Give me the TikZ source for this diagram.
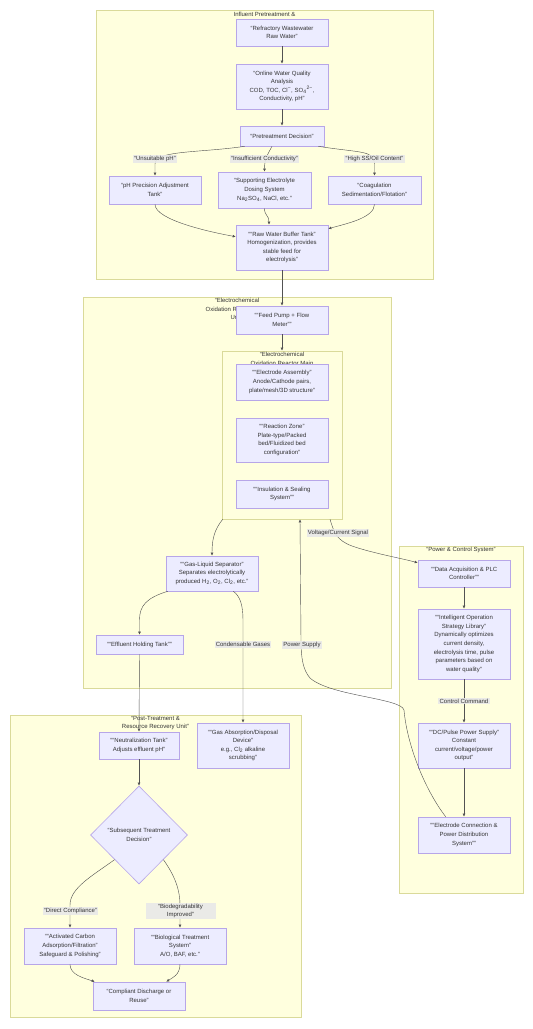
\documentclass[tikz,border=0pt]{standalone}
\usepackage{fontspec}
\setmainfont{Liberation Sans}
\usetikzlibrary{arrows.meta,positioning,shapes.geometric}
\definecolor{mmInk}{HTML}{333333}
\definecolor{mmNode}{HTML}{ECECFF}
\definecolor{mmNodeLine}{HTML}{B7A6E8}
\definecolor{mmZone}{HTML}{FFFFDE}
\definecolor{mmZoneLine}{HTML}{DADA9A}
\definecolor{mmLbl}{HTML}{E8E8E8}
\newcommand{\mmfont}{\fontsize{6}{8.6}\selectfont}
\tikzset{
  zone/.style      ={draw=mmZoneLine,fill=mmZone,line width=0.6pt,inner sep=0pt},
  zonetitle/.style ={font=\mmfont,text=mmInk,align=center,inner sep=1.2pt,anchor=north},
  proc/.style      ={draw=mmNodeLine,fill=mmNode,line width=0.6pt,align=center,
                     inner sep=1pt,minimum width=92pt,font=\mmfont,text=mmInk},
  choice/.style    ={proc,diamond,minimum width=97pt,minimum height=98pt,inner sep=0pt},
  flow/.style      ={-{Latex[length=3pt,width=2.8pt]},mmInk!85,line width=0.42pt},
  elbl/.style      ={fill=mmLbl,fill opacity=0.9,text opacity=1,font=\mmfont,text=mmInk,
                     inner sep=1.2pt,align=center},
}
\begin{document}
\begin{tikzpicture}[x=1pt,y=1pt]
\useasboundingbox[fill=white] (0,0) rectangle (533,-1029);

%% zones
\node[zone,minimum width=337pt,minimum height=269pt] (pre)     at (264.5,-144.5) {};
\node[zone,minimum width=308pt,minimum height=391pt] (eco)     at (237,-492.5)   {};
\node[zone,minimum width=120pt,minimum height=168pt] (reactor) at (282,-435)     {};
\node[zone,minimum width=124pt,minimum height=347pt] (power)   at (461,-719.5)   {};
\node[zone,minimum width=291pt,minimum height=302pt] (post)    at (155.5,-866)   {};
\node[zonetitle] (preT)     at ([yshift=-1pt]pre.north) {Influent Pretreatment \&};
\node[zonetitle] (ecoT)     at (eco.north)     {“Electrochemical\\Oxidation Reactor Main\\Unit”};
\node[zonetitle] (reactorT) at (reactor.north) {“Electrochemical\\Oxidation Reactor Main};
\node[zonetitle] (powerT)   at (power.north)   {“Power \& Control System”};
\node[zonetitle] (postT)    at (post.north)    {“Post-Treatment \&\\Resource Recovery Unit”};

%% pretreatment
\node[proc,minimum height=27pt] (raw) at (282,-32.5) {“Refractory Wastewater\\Raw Water”};
\node[proc,minimum height=45pt] (online) at (282,-86.5)
  {“Online Water Quality\\Analysis\\COD, TOC, Cl\textsuperscript{−}, SO\textsubscript{4}\textsuperscript{2−},\\Conductivity, pH”};
\node[proc,minimum width=84pt,minimum height=20pt] (dec) at (282,-136) {“Pretreatment Decision”};
\node[proc,minimum height=28pt] (ph) at (155,-190) {“pH Precision Adjustment\\Tank”};
\node[proc,minimum width=93pt,minimum height=36pt] (elec) at (264.5,-190)
  {“Supporting Electrolyte\\Dosing System\\Na\textsubscript{2}SO\textsubscript{4}, NaCl, etc.”};
\node[proc,minimum width=93pt,minimum height=28pt] (coag) at (374.5,-190) {“Coagulation\\Sedimentation/Flotation”};
\node[proc,minimum height=45pt] (buffer) at (282,-247.5)
  {““Raw Water Buffer Tank”\\Homogenization, provides\\stable feed for\\electrolysis”};

%% reactor unit
\node[proc,minimum height=28pt] (feed) at (282,-320) {““Feed Pump + Flow\\Meter””};
\node[proc,minimum height=36pt] (electrode) at (282,-382)
  {““Electrode Assembly”\\Anode/Cathode pairs,\\plate/mesh/3D structure”};
\node[proc,minimum height=44pt] (reaction) at (282,-440)
  {““Reaction Zone”\\Plate-type/Packed\\bed/Fluidized bed\\configuration”};
\node[proc,minimum height=28pt] (insul) at (282,-494) {““Insulation \& Sealing\\System””};
\node[proc,minimum height=35pt] (separator) at (212,-573.5)
  {““Gas-Liquid Separator”\\Separates electrolytically\\produced H\textsubscript{2}, O\textsubscript{2}, Cl\textsubscript{2}, etc.”};
\node[proc,minimum width=87pt,minimum height=19pt] (effluent) at (139.5,-644.5) {““Effluent Holding Tank””};

%% power & control
\node[proc,minimum height=27pt] (daq) at (464,-573.5) {““Data Acquisition \& PLC\\Controller””};
\node[proc,minimum height=70pt] (strategy) at (464,-644)
  {““Intelligent Operation\\Strategy Library”\\Dynamically optimizes\\current density,\\electrolysis time, pulse\\parameters based on\\water quality”};
\node[proc,minimum height=45pt] (dcpower) at (464,-745.5)
  {““DC/Pulse Power Supply”\\Constant\\current/voltage/power\\output”};
\node[proc,minimum height=36pt] (dist) at (464,-835)
  {““Electrode Connection \&\\Power Distribution\\System””};

%% post-treatment
\node[proc,minimum width=80pt,minimum height=27pt] (neutral) at (139,-745.5) {““Neutralization Tank”\\Adjusts effluent pH”};
\node[proc,minimum height=45pt] (gasabs) at (243,-745.5)
  {““Gas Absorption/Disposal\\Device”\\e.g., Cl\textsubscript{2} alkaline\\scrubbing”};
\node[choice] (subdec) at (139,-835) {“Subsequent Treatment\\Decision”};
\node[proc,minimum height=36pt] (carbon) at (70,-946)
  {““Activated Carbon\\Adsorption/Filtration”\\Safeguard \& Polishing”};
\node[proc,minimum height=36pt] (bio) at (180,-946) {““Biological Treatment\\System”\\A/O, BAF, etc.”};
\node[proc,minimum height=28pt] (discharge) at (139,-996) {“Compliant Discharge or\\Reuse”};

%% connectors
\draw[flow] (raw.south) -- (online.north);
\draw[flow] (online.south) -- (dec.north);
\draw[flow] ([xshift=5pt]dec.south west) .. controls (200,-153) and (155,-150) .. (155,-164) -- (ph.north);
\draw[flow] ([xshift=-10pt]dec.south) .. controls (268,-154) and (264.5,-158) .. (elec.north);
\draw[flow] ([xshift=-6pt]dec.south east) .. controls (360,-153) and (374.5,-150) .. (374.5,-164) -- (coag.north);
\draw[flow] (ph.south) .. controls (155,-220) and (210,-232) .. ([yshift=-12pt]buffer.north west);
\draw[flow] (elec.south) .. controls (264.5,-216) and (269,-215) .. ([xshift=-13pt]buffer.north);
\draw[flow] (coag.south) .. controls (374.5,-218) and (345,-224) .. ([yshift=-4pt]buffer.north east);
\draw[flow] (buffer.south) -- (feed.north);
\draw[flow] (feed.south) -- (reactor.north);
\draw[flow] ([xshift=1pt]reactor.south west) .. controls (214,-530) and (212,-540) .. (separator.north);
\draw[flow] ([xshift=48pt]reactor.south) .. controls (334,-532) and (336,-540) .. (352,-546)
  .. controls (372,-553) and (400,-558) .. ([yshift=-3pt]daq.north west);
\draw[flow] ([xshift=28pt]dist.north west) .. controls (425,-790) and (407,-745) .. (404,-710)
  .. controls (401,-698) and (330,-696) .. (310,-678)
  .. controls (303,-670) and (301,-658) .. (301,-640) -- ([xshift=18pt]reactor.south);
\draw[flow] ([xshift=2pt]separator.south west) .. controls (146,-598) and (139.5,-606) .. (139.5,-620) -- (effluent.north);
\draw[flow] ([xshift=-25pt]separator.south east) .. controls (240,-596) and (243,-605) .. (243,-620) -- (gasabs.north);
\draw[flow] (effluent.south) -- (neutral.north);
\draw[flow] (neutral.south) -- (subdec.north);
\draw[flow] (daq.south) -- (strategy.north);
\draw[flow] (strategy.south) -- (dcpower.north);
\draw[flow] (dcpower.south) -- (dist.north);
\draw[flow] (subdec.south west) .. controls (92,-876) and (70,-888) .. (70,-905) -- (carbon.north);
\draw[flow] (subdec.south east) .. controls (175,-876) and (180,-890) .. (180,-905) -- (bio.north);
\draw[flow] (carbon.south) .. controls (70,-975) and (84,-978) .. ([xshift=2pt]discharge.north west);
\draw[flow] (bio.south) .. controls (180,-975) and (172,-978) .. ([xshift=-19pt]discharge.north east);

%% connector labels
\node[elbl] (lblPH)     at (155,-159)   {“Unsuitable pH”};
\node[elbl] (lblCond)   at (264.5,-159) {“Insufficient Conductivity”};
\node[elbl] (lblSS)     at (374.5,-159) {“High SS/Oil Content”};
\node[elbl] (lblVolt)   at (338,-533)   {Voltage/Current Signal};
\node[elbl] (lblGas)    at (243,-644.5) {Condensable Gases};
\node[elbl] (lblPower)  at (302,-644.5) {Power Supply};
\node[elbl] (lblCmd)    at (464,-701)   {Control Command};
\node[elbl] (lblDirect) at (70.5,-911)  {“Direct Compliance”};
\node[elbl,minimum width=70pt] (lblBio) at (180.5,-911) {“Biodegradability\\Improved”};
\end{tikzpicture}
\end{document}
